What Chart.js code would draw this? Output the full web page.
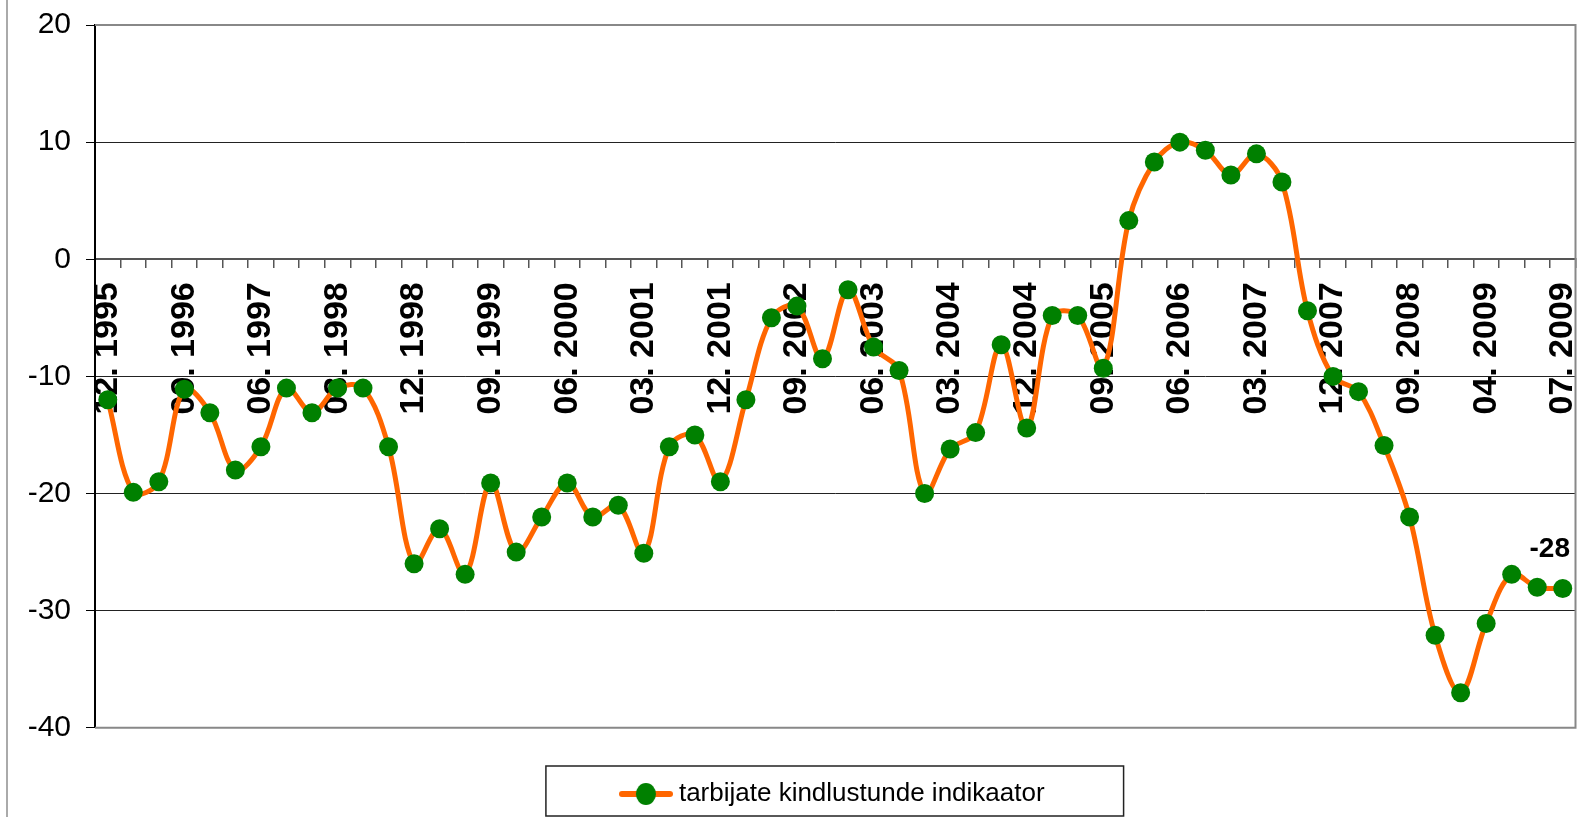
<!DOCTYPE html>
<html>
<head>
<meta charset="utf-8">
<script src="https://cdn.jsdelivr.net/npm/chart.js@4.4.0/dist/chart.umd.min.js"></script>
<style>
  html, body { margin: 0; padding: 0; background: #fff; }
  #wrap { position: relative; width: 1585px; height: 817px; }
</style>
</head>
<body>
<div id="wrap"><canvas id="indicatorChart"></canvas></div>
<script>
// quarterly until end of 2008, monthly in 2009
const periods = [
    '12. 1995', '03. 1996', '06. 1996', '09. 1996', '12. 1996', '03. 1997', '06. 1997', '09. 1997',
    '12. 1997', '03. 1998', '06. 1998', '09. 1998', '12. 1998', '03. 1999', '06. 1999', '09. 1999',
    '12. 1999', '03. 2000', '06. 2000', '09. 2000', '12. 2000', '03. 2001', '06. 2001', '09. 2001',
    '12. 2001', '03. 2002', '06. 2002', '09. 2002', '12. 2002', '03. 2003', '06. 2003', '09. 2003',
    '12. 2003', '03. 2004', '06. 2004', '09. 2004', '12. 2004', '03. 2005', '06. 2005', '09. 2005',
    '12. 2005', '03. 2006', '06. 2006', '09. 2006', '12. 2006', '03. 2007', '06. 2007', '09. 2007',
    '12. 2007', '03. 2008', '06. 2008', '09. 2008', '12. 2008', '03. 2009', '04. 2009', '05. 2009',
    '06. 2009', '07. 2009'
];

const indicator = [
    -12.0, -19.9, -19.0, -11.1, -13.1, -18.0, -16.0, -11.0,
    -13.1, -11.0, -11.0, -16.0, -26.0, -23.0, -26.9, -19.1,
    -25.0, -22.0, -19.1, -22.0, -21.0, -25.1, -16.0, -15.0,
    -19.0, -12.0, -5.0, -4.0, -8.5, -2.6, -7.5, -9.5,
    -20.0, -16.2, -14.8, -7.3, -14.4, -4.8, -4.8, -9.3,
    3.3, 8.3, 10.0, 9.3, 7.2, 9.0, 6.6, -4.4,
    -10.0, -11.3, -15.9, -22.0, -32.1, -37.0, -31.1, -26.9,
    -28.0, -28.1
];

const yTicks = [-40, -30, -20, -10, 0, 10, 20];
const seriesName = 'tarbijate kindlustunde indikaator';
const lastLabel = '-28';

const FONT = "'Liberation Sans', Arial, sans-serif";

// legend symbol: orange line with green dot
const marker = document.createElement('canvas');
marker.width = 54;
marker.height = 24;
const mctx = marker.getContext('2d');
mctx.strokeStyle = '#FF6600';
mctx.lineWidth = 6;
mctx.lineCap = 'round';
mctx.beginPath();
mctx.moveTo(3, 12);
mctx.lineTo(51, 12);
mctx.stroke();
mctx.fillStyle = '#008000';
mctx.beginPath();
mctx.ellipse(27, 12, 10, 11, 0, 0, Math.PI * 2);
mctx.fill();

const chartFrame = {
    id: 'chartFrame',
    beforeDraw(chart) {
        const ctx = chart.ctx;
        ctx.save();
        ctx.fillStyle = '#fff';
        ctx.fillRect(0, 0, chart.width, chart.height);
        ctx.strokeStyle = '#aaa';
        ctx.lineWidth = 2;
        ctx.beginPath();
        ctx.moveTo(7, 0);
        ctx.lineTo(7, chart.height);
        ctx.stroke();
        ctx.restore();
    },
    beforeDatasetsDraw(chart) {
        const a = chart.chartArea;
        const ctx = chart.ctx;
        ctx.save();
        ctx.strokeStyle = '#888';
        ctx.lineWidth = 2;
        ctx.beginPath();
        ctx.moveTo(a.left, a.top);
        ctx.lineTo(a.right, a.top);
        ctx.lineTo(a.right, a.bottom);
        ctx.lineTo(a.left, a.bottom);
        ctx.stroke();
        ctx.restore();
    },
    afterDatasetsDraw(chart) {
        const meta = chart.getDatasetMeta(0);
        const pt = meta.data[meta.data.length - 1];
        const ctx = chart.ctx;
        ctx.save();
        ctx.font = 'bold 28px ' + FONT;
        ctx.fillStyle = '#000';
        ctx.textAlign = 'center';
        ctx.textBaseline = 'middle';
        ctx.fillText(lastLabel, pt.x - 13, pt.y - 39);
        ctx.restore();
    },
    afterDraw(chart) {
        const lg = chart.legend;
        if (!lg || !lg.legendHitBoxes.length) return;
        const hb = lg.legendHitBoxes[0];
        const ctx = chart.ctx;
        ctx.save();
        ctx.strokeStyle = '#222';
        ctx.lineWidth = 1.5;
        const x1 = hb.left - 80;
        const x2 = hb.left + hb.width + 79;
        const y1 = lg.bottom - 51;
        const y2 = lg.bottom - 1;
        ctx.strokeRect(x1, y1, x2 - x1, y2 - y1);
        ctx.restore();
    }
};

const indicatorChart = new Chart(document.getElementById('indicatorChart'), {
    type: 'line',
    data: {
        labels: periods,
        datasets: [{
            label: seriesName,
            data: indicator,
            borderColor: '#FF6600',
            borderWidth: 5,
            tension: 0.35,
            fill: false,
            pointStyle: 'circle',
            pointRadius: 9.5,
            pointHoverRadius: 9.5,
            pointBorderWidth: 0,
            pointBackgroundColor: '#008000',
            pointBorderColor: '#008000',
            clip: false
        }]
    },
    options: {
        responsive: true,
        maintainAspectRatio: false,
        animation: false,
        layout: {
            padding: { top: 25, right: 5, left: 0, bottom: 0 }
        },
        scales: {
            x: {
                type: 'category',
                position: { y: 0 },
                offset: true,
                afterFit: function (scale) {
                    scale.paddingLeft = 0;
                    scale.paddingRight = 0;
                },
                grid: {
                    display: true,
                    drawOnChartArea: false,
                    drawTicks: true,
                    tickLength: 8,
                    offset: true,
                    color: '#555',
                    lineWidth: 1.5
                },
                border: { display: true, color: '#555', width: 2 },
                ticks: {
                    autoSkip: false,
                    minRotation: 90,
                    maxRotation: 90,
                    padding: 15,
                    color: '#000',
                    font: { family: FONT, size: 34, weight: 'bold' },
                    callback: function (value, index) {
                        return index % 3 === 0 ? periods[index] : '';
                    }
                }
            },
            y: {
                min: -40,
                max: 20,
                afterBuildTicks: function (scale) {
                    scale.ticks = yTicks.map(v => ({ value: v }));
                },
                afterFit: function (scale) {
                    scale.width = 95;
                    scale.paddingTop = 0;
                    scale.paddingBottom = 0;
                },
                grid: {
                    color: function (ctx) {
                        const v = ctx.tick ? ctx.tick.value : null;
                        return (v === 20 || v === -40) ? 'rgba(0,0,0,0)' : '#222';
                    },
                    tickColor: '#000',
                    tickLength: 9,
                    lineWidth: 1
                },
                border: { color: '#000', width: 2 },
                ticks: {
                    padding: 15,
                    color: '#000',
                    font: { family: FONT, size: 30 }
                }
            }
        },
        plugins: {
            legend: {
                position: 'bottom',
                fullSize: false,
                title: {
                    display: true,
                    text: '',
                    padding: { top: 36, bottom: 0 },
                    font: { size: 1 }
                },
                labels: {
                    usePointStyle: true,
                    pointStyle: marker,
                    pointStyleWidth: 40,
                    boxHeight: 24,
                    padding: 16,
                    color: '#000',
                    font: { family: FONT, size: 26 }
                }
            },
            tooltip: { enabled: false }
        }
    },
    plugins: [chartFrame]
});
</script>
</body>
</html>
